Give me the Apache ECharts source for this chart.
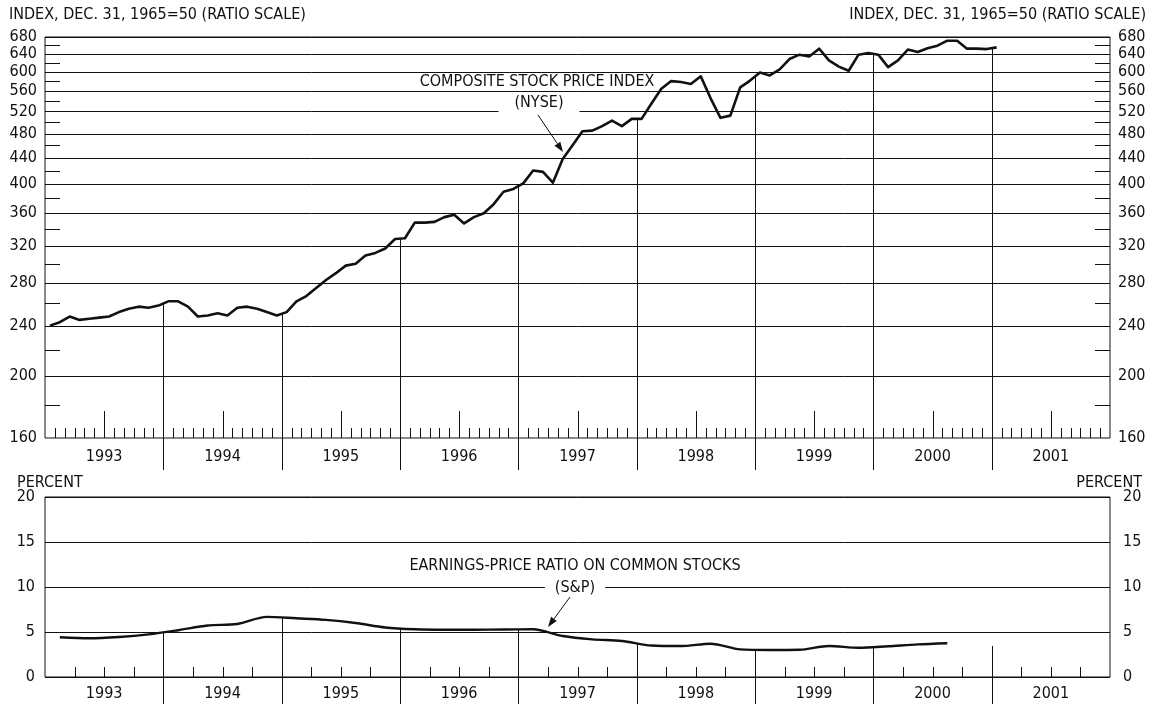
<!DOCTYPE html>
<html>
<head>
<meta charset="utf-8">
<script src="https://cdn.jsdelivr.net/npm/echarts@6/dist/echarts.min.js"></script>
<style>
html,body{margin:0;padding:0;background:#fff;}
#c{width:1151px;height:704px;}
</style>
</head>
<body>
<div id="c"></div>
<script>
// ---------------- DATA ----------------
const years = ['1993','1994','1995','1996','1997','1998','1999','2000','2001'];

// Composite stock price index (NYSE), monthly, Jan 1993 .. Jan 2001
const nyseIndex = [
  240,243,248,245,246,247,248,252,255,257,256,258,
  262,262,257,248,249,251,249,256,257,255,252,249,
  252,262,267,275,283,290,298,300,309,312,317,328,
  329,348,348,349,355,358,347,355,360,372,389,393,
  401,420,418,402,438,460,484,485,493,503,493,506,
  506,535,564,580,578,574,590,545,508,512,567,581,
  598,592,605,628,638,634,652,625,611,602,638,642,
  638,610,625,650,644,653,659,671,671,652,652,651,
  655
];

// Earnings-price ratio on common stocks (S&P), quarterly, Q1 1993 .. Q3 2000
const epRatio = [
  4.41,4.30,4.45,4.74,
  5.20,5.72,5.89,6.68,
  6.52,6.35,6.00,5.50,
  5.30,5.25,5.25,5.28,
  5.30,4.55,4.18,4.00,
  3.50,3.44,3.70,3.07,
  3.00,3.02,3.45,3.25,
  3.42,3.62,3.75
];

// tick / grid values of the ratio scale
const topLabelValues = [160,200,240,280,320,360,400,440,480,520,560,600,640,680];
const topGridValues  = [200,240,280,320,360,400,440,480,520,560,600,640,680];
const topMinorValues = [180,220,260,300,340,380,420,460,500,540,580,620,660];

// levels reached by the year-boundary rules
const topYearRuleLevels = [260,250,329,397,506,590,640,653];
const epYearRuleLevels  = [4.95,6.6,5.4,5.3,3.75,3.03,3.33,3.45];

// ---------------- HELPERS ----------------
const FONT = "'DejaVu Sans Condensed','Liberation Sans Narrow','DejaVu Sans',sans-serif";
const INK = '#111';
const MONTHS = years.length * 12;   // 108
const px = v => Math.round(v) + 0.5;

const nyseData = nyseIndex.map((v, i) => [i + 0.5, v]);
const epData = epRatio.map((v, q) => [q * 3 + 1.5, v]);
const yearBoundaries = years.slice(1).map((y, k) => (k + 1) * 12);
const topRules = yearBoundaries.map((m, k) => [m, topYearRuleLevels[k]]);
const epRules = yearBoundaries.map((m, k) => [m, epYearRuleLevels[k]]);
const monthTicks = [];
for (let m = 1; m < MONTHS; m++) if (m % 12 !== 0) monthTicks.push([m, 160]);
const quarterTicks = [];
for (let m = 3; m < MONTHS; m += 3) if (m % 12 !== 0) quarterTicks.push([m, 0]);

function hLine(params, api) {
  const v = api.value(1);
  const a = api.coord([0, v]), b = api.coord([MONTHS, v]);
  return {type:'line', shape:{x1:a[0], y1:px(a[1]), x2:b[0], y2:px(a[1])},
          style:{stroke:INK, lineWidth:1}};
}
function minorTick(params, api) {
  const v = api.value(1);
  const a = api.coord([0, v]), b = api.coord([MONTHS, v]);
  return {type:'group', children:[
    {type:'line', shape:{x1:a[0], y1:px(a[1]), x2:a[0]+15, y2:px(a[1])}, style:{stroke:INK, lineWidth:1}},
    {type:'line', shape:{x1:b[0]-15, y1:px(b[1]), x2:b[0], y2:px(b[1])}, style:{stroke:INK, lineWidth:1}}
  ]};
}
function sideLabels(params, api) {
  const v = api.value(1);
  const a = api.coord([0, v]), b = api.coord([MONTHS, v]);
  const st = {fontSize:16, fontFamily:FONT, fill:INK, verticalAlign:'middle'};
  return {type:'group', children:[
    {type:'text', x:a[0]-8, y:a[1], style:Object.assign({text:String(v), align:'right'}, st)},
    {type:'text', x:b[0]+8, y:b[1], style:Object.assign({text:String(v), align:'left'}, st)}
  ]};
}
function upTick(len) {
  return function (params, api) {
    const m = api.value(0);
    const p = api.coord([m, api.value(1)]);
    const l = (typeof len === 'function') ? len(m) : len;
    return {type:'line', shape:{x1:px(p[0]), y1:p[1], x2:px(p[0]), y2:p[1]-l},
            style:{stroke:INK, lineWidth:1}};
  };
}
function yearRule(base, extra) {
  return function (params, api) {
    const m = api.value(0);
    const top = api.coord([m, api.value(1)]);
    const bot = api.coord([m, base]);
    return {type:'line', shape:{x1:px(top[0]), y1:top[1], x2:px(top[0]), y2:bot[1]+extra},
            style:{stroke:INK, lineWidth:1}};
  };
}
function arrow(x1, y1, x2, y2) {
  const ang = Math.atan2(y2 - y1, x2 - x1), L = 10, W = 3.5;
  const bx = x2 - L * Math.cos(ang), by = y2 - L * Math.sin(ang);
  const ox = -Math.sin(ang) * W, oy = Math.cos(ang) * W;
  return [
    {type:'line', z:100, shape:{x1, y1, x2:bx, y2:by}, style:{stroke:INK, lineWidth:1}},
    {type:'polygon', z:100, shape:{points:[[x2,y2],[bx+ox,by+oy],[bx-ox,by-oy]]}, style:{fill:INK}}
  ];
}
function label(text, x, y, opts) {
  return Object.assign({type:'text', z:100, x, y,
    style:Object.assign({text, fontSize:16, fontFamily:FONT, fill:INK}, opts || {})});
}

// ---------------- CHART ----------------
const chart = echarts.init(document.getElementById('c'), null, {renderer:'canvas'});
const G0 = {left:45, top:37, width:1065, height:401};
const G1 = {left:45, top:497, width:1065, height:180};

chart.setOption({
  animation:false,
  backgroundColor:'#fff',
  textStyle:{fontFamily:FONT, color:INK},
  grid:[
    Object.assign({show:true, borderColor:INK, borderWidth:1, backgroundColor:'transparent'}, G0),
    Object.assign({show:true, borderColor:INK, borderWidth:1, backgroundColor:'transparent'}, G1)
  ],
  xAxis:[
    {gridIndex:0, type:'value', min:0, max:MONTHS, show:false},
    {gridIndex:0, type:'category', data:years, position:'bottom',
     axisLine:{show:false}, axisTick:{show:false},
     axisLabel:{margin:11, fontSize:16, fontFamily:FONT, color:INK}},
    {gridIndex:1, type:'value', min:0, max:MONTHS, show:false},
    {gridIndex:1, type:'category', data:years, position:'bottom',
     axisLine:{show:false}, axisTick:{show:false},
     axisLabel:{margin:9, fontSize:16, fontFamily:FONT, color:INK}}
  ],
  yAxis:[
    {gridIndex:0, type:'log', logBase:10, min:160, max:680,
     axisLine:{show:false}, axisTick:{show:false}, axisLabel:{show:false}, splitLine:{show:false}},
    {gridIndex:1, type:'value', min:0, max:20, interval:5, position:'left',
     axisLine:{show:false}, axisTick:{show:false},
     axisLabel:{margin:10, fontSize:16, fontFamily:FONT, color:INK},
     splitLine:{show:true, lineStyle:{color:INK, width:1}}},
    {gridIndex:1, type:'value', min:0, max:20, interval:5, position:'right',
     axisLine:{show:false}, axisTick:{show:false},
     axisLabel:{margin:13, fontSize:16, fontFamily:FONT, color:INK},
     splitLine:{show:false}}
  ],
  series:[
    {type:'custom', name:'topGrid', xAxisIndex:0, yAxisIndex:0, silent:true, z:1,
     data:topGridValues.map(v => [0, v]), renderItem:hLine},
    {type:'custom', name:'topMinor', xAxisIndex:0, yAxisIndex:0, silent:true, z:1,
     data:topMinorValues.map(v => [0, v]), renderItem:minorTick},
    {type:'custom', name:'topLabels', xAxisIndex:0, yAxisIndex:0, silent:true, z:1, clip:false,
     data:topLabelValues.map(v => [0, v]), renderItem:sideLabels},
    {type:'custom', name:'monthTicks', xAxisIndex:0, yAxisIndex:0, silent:true, z:1,
     data:monthTicks, renderItem:upTick(m => (m % 12 === 6 ? 27 : 10))},
    {type:'custom', name:'topRules', xAxisIndex:0, yAxisIndex:0, silent:true, z:2, clip:false,
     data:topRules, renderItem:yearRule(160, 32)},
    {type:'line', name:'COMPOSITE STOCK PRICE INDEX (NYSE)', xAxisIndex:0, yAxisIndex:0,
     data:nyseData, showSymbol:false, symbol:'none', z:5,
     lineStyle:{color:INK, width:2.6, join:'round'}},

    {type:'custom', name:'quarterTicks', xAxisIndex:2, yAxisIndex:1, silent:true, z:1,
     data:quarterTicks, renderItem:upTick(10)},
    {type:'custom', name:'epRules', xAxisIndex:2, yAxisIndex:1, silent:true, z:2, clip:false,
     data:epRules, renderItem:yearRule(0, 27)},
    {type:'line', name:'EARNINGS-PRICE RATIO ON COMMON STOCKS (S&P)', xAxisIndex:2, yAxisIndex:1,
     data:epData, smooth:0.3, showSymbol:false, symbol:'none', z:5,
     lineStyle:{color:INK, width:2.4}}
  ],
  graphic:[
    label('INDEX, DEC. 31, 1965=50 (RATIO SCALE)', 9, 15, {align:'left', verticalAlign:'middle'}),
    label('INDEX, DEC. 31, 1965=50 (RATIO SCALE)', 1146, 15, {align:'right', verticalAlign:'middle'}),
    label('PERCENT', 17, 483, {align:'left', verticalAlign:'middle'}),
    label('PERCENT', 1142, 483, {align:'right', verticalAlign:'middle'}),
    label('COMPOSITE STOCK PRICE INDEX', 537, 82,
          {align:'center', verticalAlign:'middle', backgroundColor:'#fff', padding:[1,3]}),
    label('(NYSE)', 539, 103,
          {align:'center', verticalAlign:'middle', backgroundColor:'#fff', padding:[1,16]}),
    label('EARNINGS-PRICE RATIO ON COMMON STOCKS', 575, 566,
          {align:'center', verticalAlign:'middle', backgroundColor:'#fff', padding:[1,3]}),
    label('(S&P)', 575, 588,
          {align:'center', verticalAlign:'middle', backgroundColor:'#fff', padding:[1,10]}),
    ...arrow(538, 115, 563, 152),
    ...arrow(570, 597, 548, 627)
  ]
});
</script>
</body>
</html>
